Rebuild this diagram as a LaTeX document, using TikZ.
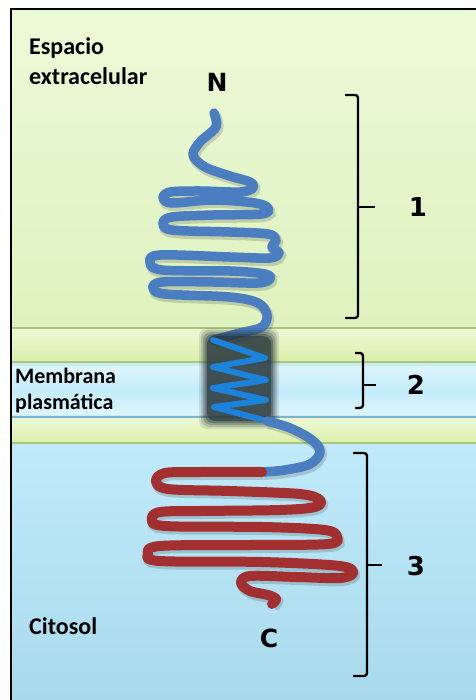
\documentclass[tikz,border=0pt]{standalone}
\usepackage{fontspec}
\setmainfont{Carlito}
\newfontfamily\heavyfont{DejaVu Sans}

\definecolor{extratop}{RGB}{236,249,216}
\definecolor{extrabot}{RGB}{222,242,190}
\definecolor{bandtop}{RGB}{238,249,214}
\definecolor{bandbot}{RGB}{218,239,170}
\definecolor{bandline}{RGB}{170,198,120}
\definecolor{membedge}{RGB}{196,236,250}
\definecolor{membmid}{RGB}{222,245,253}
\definecolor{membline}{RGB}{120,180,204}
\definecolor{cytotop}{RGB}{192,234,250}
\definecolor{cytobot}{RGB}{168,218,236}
\definecolor{coilblue}{RGB}{74,126,193}
\definecolor{helixblue}{RGB}{28,130,218}
\definecolor{helixdark}{RGB}{40,54,58}
\definecolor{coilred}{RGB}{163,48,48}

\tikzset{
  regionlabel/.style={anchor=north west, inner sep=0pt, align=left, font=\bfseries\fontsize{24}{30}\selectfont},
  endlabel/.style={inner sep=0pt, anchor=base, font=\heavyfont\bfseries\fontsize{25}{25}\selectfont},
  domlabel/.style={inner sep=0pt, font=\heavyfont\bfseries\fontsize{26}{26}\selectfont},
  bracket/.style={black, line width=2.4pt, rounded corners=3pt},
  coil/.style={line width=9.5pt, line cap=round, line join=round,
    preaction={draw=black, draw opacity=.15, line width=11pt,
      transform canvas={xshift=1.5pt, yshift=-2.5pt}}},
  bandedge/.style={bandline, line width=1.2pt}
}

\begin{document}
\begin{tikzpicture}[x=1pt, y=-1pt]
\useasboundingbox (0,0) rectangle (475,700);

% compartments
\shade [top color=extratop, bottom color=extrabot] (11,9) rectangle (476,328);
\shade [top color=bandtop, bottom color=bandbot] (11,328) rectangle (476,362);
\fill [membedge] (11,362) rectangle (476,417);
\shade [top color=membmid, bottom color=membedge] (11,366) rectangle (476,390);
\shade [top color=membedge, bottom color=membmid] (11,390) rectangle (476,414);
\shade [top color=bandtop, bottom color=bandbot] (11,417) rectangle (476,443);
\shade [top color=cytotop, bottom color=cytobot] (11,443) rectangle (476,701);
\draw [bandedge] (11,328) -- (476,328);
\draw [bandedge] (11,362) -- (476,362);
\draw [membline, line width=1.2pt] (11,417) -- (476,417);
\draw [bandedge, line width=1.6pt] (11,443) -- (476,443);
\draw [black, line width=2pt] (11,701) -- (11,9) -- (476,9);

% extracellular part of the chain
\draw [coil, coilblue] plot [smooth, tension=0.55] coordinates {
  (214,113) (216,127) (200,142) (193,155) (205,167) (230,176) (250,182)
  (253,188) (240,192) (200,191) (170,192) (163,198) (172,203) (213,200)
  (255,203) (268,208) (262,214) (213,215) (172,217) (163,223) (172,230)
  (230,232) (268,234) (276,240) (272,247) (279,253) (270,258) (230,257)
  (160,255) (150,262) (162,270) (230,271) (265,274) (270,279) (258,283)
  (213,282) (162,282) (153,288) (165,294) (230,297) (258,303) (267,315)
  (262,327) (240,333) (214,340)};

% transmembrane helix, dark halo first
\foreach \g/\op in {9/.12, 7/.18, 5/.25, 3/.35, 1/.6} {
  \fill [helixdark, opacity=\op, rounded corners=8pt]
    (208-\g,337-\g) rectangle (270+\g,420+\g);
}
\draw [helixblue, line width=6pt, line cap=round, line join=round]
  (213,340) -- (265,358) -- (213,367) -- (266,380) -- (213,388)
  -- (266,400) -- (214,407) -- (267,421);

% cytosolic part
\draw [coil, coilblue] plot [smooth, tension=0.6] coordinates {
  (267,421) (290,428) (312,440) (320,452) (310,464) (285,470) (262,472)};
\draw [coil, coilred, line width=10pt] plot [smooth, tension=0.55] coordinates {
  (262,472) (200,472) (165,473) (156,481) (168,489) (230,491) (300,494)
  (320,500) (315,507) (280,510) (200,511) (160,512) (152,519) (165,526)
  (263,527) (325,530) (337,537) (328,544) (250,545) (160,546) (148,554)
  (160,561) (263,562) (340,566) (353,573) (340,578) (297,577) (250,576)
  (241,583) (250,591) (268,595) (276,599) (272,604)};

% labels
\node [regionlabel] (extra) at (29,37) {Espacio\\extracelular};
\node [regionlabel, font=\bfseries\fontsize{22}{26}\selectfont] (membrana) at (15,368) {Membrana\\plasmática};
\node [regionlabel] (citosol) at (29,617) {Citosol};
\node [endlabel] (nterm) at (217,92) {N};
\node [endlabel] (cterm) at (269,647) {C};

% domain brackets
\draw [bracket] (345,95) -- (358,95) -- (358,318) -- (345,318);
\draw [bracket] (358,207) -- (375,207);
\node [domlabel] (dom1) at (418,207) {1};

\draw [bracket] (355,353) -- (363,353) -- (363,408) -- (355,408);
\draw [bracket] (363,385) -- (376,385);
\node [domlabel] (dom2) at (416,385) {2};

\draw [bracket] (353,453) -- (367,453) -- (367,676) -- (353,676);
\draw [bracket] (367,565) -- (382,565);
\node [domlabel] (dom3) at (416,566) {3};

\end{tikzpicture}
\end{document}
